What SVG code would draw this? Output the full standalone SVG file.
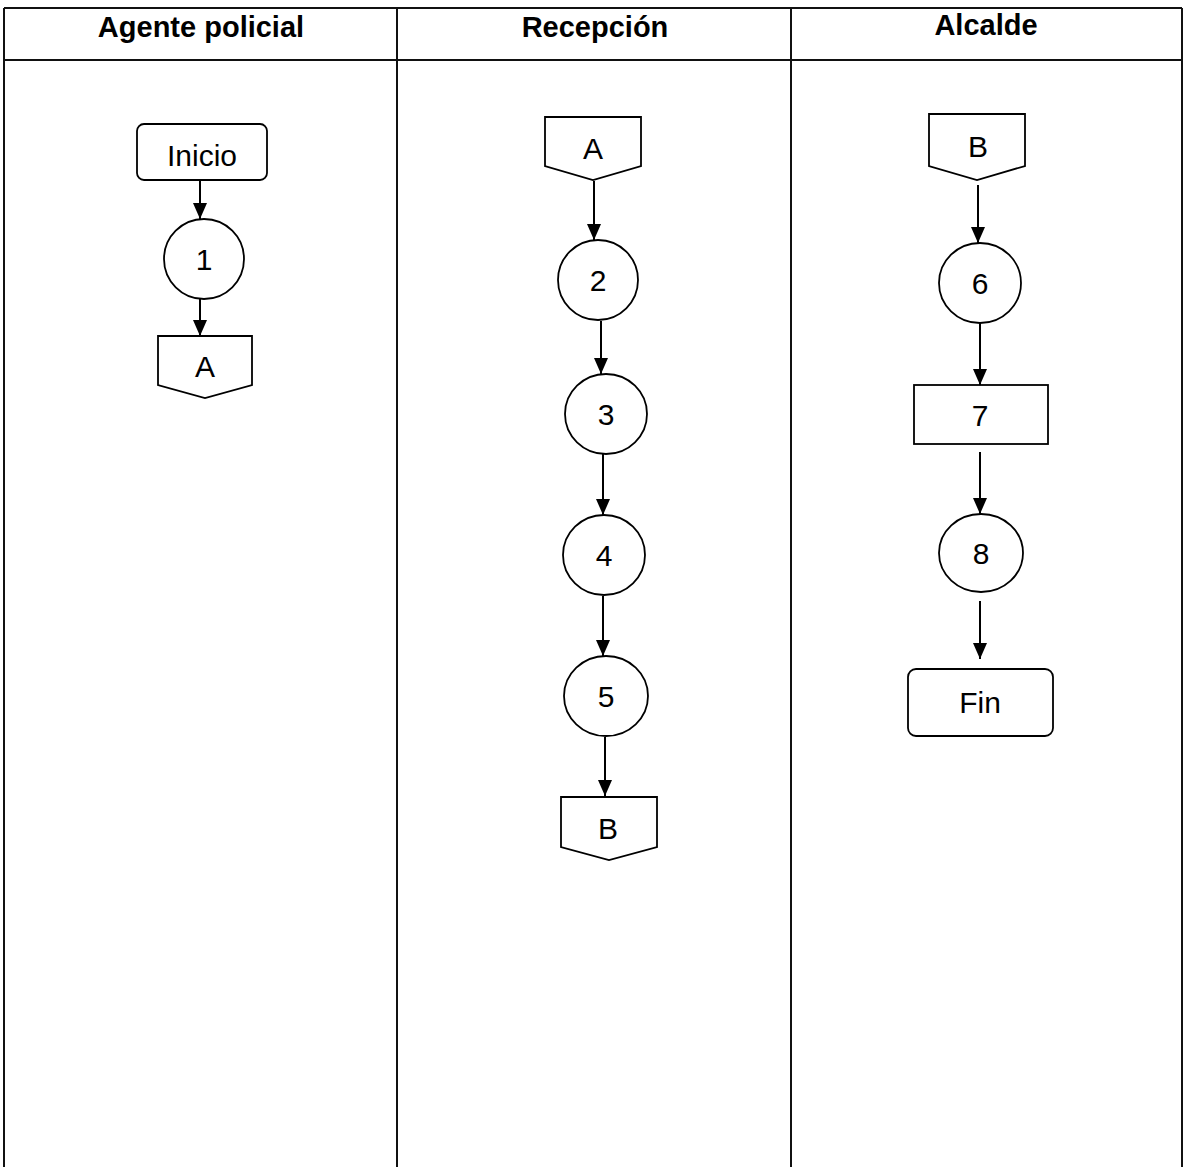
<svg xmlns="http://www.w3.org/2000/svg" width="1185" height="1167" viewBox="0 0 1185 1167">
<style>
.grid{stroke:#111;stroke-width:2;fill:none}
.hdr{font-family:"Liberation Sans",Arial,sans-serif;font-weight:bold;font-size:29px;fill:#000;text-anchor:middle}
.shape{fill:#fff;stroke:#000;stroke-width:1.8}
.lbl{font-family:"Liberation Sans",Arial,sans-serif;font-size:30px;fill:#000;text-anchor:middle}
.edge{stroke:#000;stroke-width:2;fill:none;marker-end:url(#arr)}
</style>
<defs>
<marker id="arr" markerWidth="16" markerHeight="14" refX="16" refY="7" orient="auto" markerUnits="userSpaceOnUse" viewBox="0 0 16 14">
<path d="M0,0 L16,7 L0,14 Z" fill="#000"/>
</marker>
</defs>
<rect width="1185" height="1167" fill="#fff"/>
<g id="table">
<line class="grid" x1="4" y1="8" x2="1182" y2="8"/>
<line class="grid" x1="4" y1="60" x2="1182" y2="60"/>
<line class="grid" x1="4" y1="8" x2="4" y2="1167"/>
<line class="grid" x1="397" y1="8" x2="397" y2="1167"/>
<line class="grid" x1="791" y1="8" x2="791" y2="1167"/>
<line class="grid" x1="1182" y1="8" x2="1182" y2="1167"/>
<text class="hdr" x="201" y="37">Agente policial</text>
<text class="hdr" x="595" y="37">Recepción</text>
<text class="hdr" x="986" y="35">Alcalde</text>
</g>
<g id="connectors">
<line class="edge" x1="200" y1="180" x2="200" y2="219"/>
<line class="edge" x1="200" y1="299" x2="200" y2="336"/>
<line class="edge" x1="594" y1="181" x2="594" y2="240"/>
<line class="edge" x1="601" y1="321" x2="601" y2="374"/>
<line class="edge" x1="603" y1="454" x2="603" y2="515"/>
<line class="edge" x1="603" y1="596" x2="603" y2="656"/>
<line class="edge" x1="605" y1="737" x2="605" y2="796"/>
<line class="edge" x1="978" y1="185" x2="978" y2="243"/>
<line class="edge" x1="980" y1="323" x2="980" y2="385"/>
<line class="edge" x1="980" y1="452" x2="980" y2="514"/>
<line class="edge" x1="980" y1="601" x2="980" y2="659"/>
</g>
<g id="inicio"><rect class="shape" x="137" y="124" width="130" height="56" rx="7"/><text class="lbl" x="202" y="166">Inicio</text></g>
<g id="n1"><ellipse class="shape" cx="204" cy="259" rx="40" ry="40"/><text class="lbl" x="204" y="270">1</text></g>
<g id="offA1"><path class="shape" d="M158,336 H252 V385 L205,398 L158,385 Z"/><text class="lbl" x="205" y="377">A</text></g>
<g id="onA"><path class="shape" d="M545,117 H641 V166 L593,180 L545,166 Z"/><text class="lbl" x="593" y="159">A</text></g>
<g id="n2"><ellipse class="shape" cx="598" cy="280" rx="40" ry="40"/><text class="lbl" x="598" y="291">2</text></g>
<g id="n3"><ellipse class="shape" cx="606" cy="414" rx="41" ry="40"/><text class="lbl" x="606" y="425">3</text></g>
<g id="n4"><ellipse class="shape" cx="604" cy="555" rx="41" ry="40"/><text class="lbl" x="604" y="566">4</text></g>
<g id="n5"><ellipse class="shape" cx="606" cy="696" rx="42" ry="40"/><text class="lbl" x="606" y="707">5</text></g>
<g id="offB"><path class="shape" d="M561,797 H657 V847 L609,860 L561,847 Z"/><text class="lbl" x="608" y="839">B</text></g>
<g id="onB"><path class="shape" d="M929,114 H1025 V166 L977,180 L929,166 Z"/><text class="lbl" x="978" y="157">B</text></g>
<g id="n6"><ellipse class="shape" cx="980" cy="283" rx="41" ry="40"/><text class="lbl" x="980" y="294">6</text></g>
<g id="n7"><rect class="shape" x="914" y="385" width="134" height="59"/><text class="lbl" x="980" y="426">7</text></g>
<g id="n8"><ellipse class="shape" cx="981" cy="553" rx="42" ry="39"/><text class="lbl" x="981" y="564">8</text></g>
<g id="fin"><rect class="shape" x="908" y="669" width="145" height="67" rx="8"/><text class="lbl" x="980" y="713">Fin</text></g>
</svg>
